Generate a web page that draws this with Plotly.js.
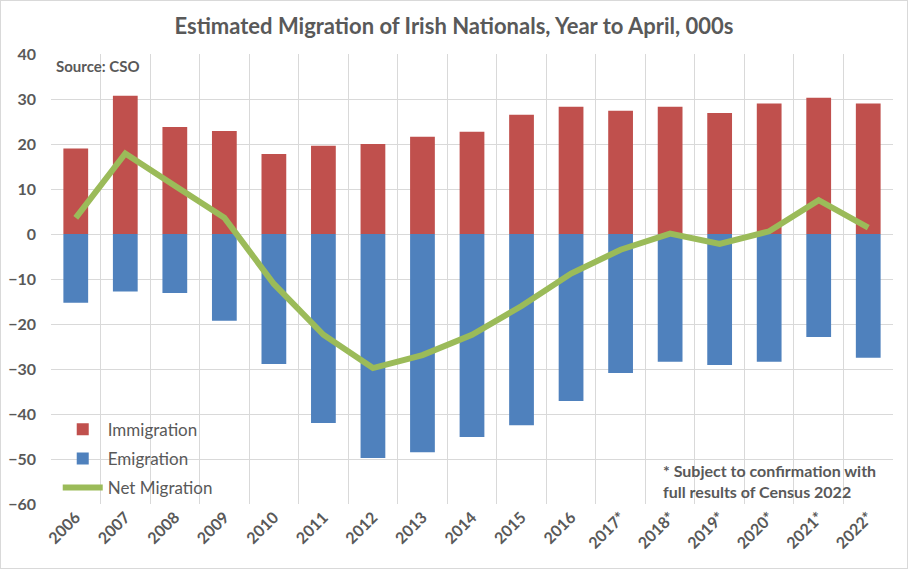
<!DOCTYPE html>
<html>
<head>
<meta charset="utf-8">
<script src="https://cdn.plot.ly/plotly-3.0.1.min.js"></script>
<style>
html,body{margin:0;padding:0;background:#fff;}
#chart{width:906px;height:567px;border:1px solid #D9D9D9;}
</style>
</head>
<body>
<div id="chart"></div>
<script>
const years = ["2006","2007","2008","2009","2010","2011","2012","2013","2014","2015","2016","2017*","2018*","2019*","2020*","2021*","2022*"];
const immigration = [19.0,30.7,23.8,22.9,17.8,19.6,20.0,21.6,22.7,26.5,28.3,27.4,28.3,26.9,29.0,30.3,29.0];
const emigration = [-15.3,-12.8,-13.1,-19.3,-28.9,-42.0,-49.8,-48.5,-45.1,-42.5,-37.1,-30.9,-28.4,-29.1,-28.4,-22.9,-27.5];
const netMigration = [3.6,17.9,10.7,3.6,-11.1,-22.4,-29.8,-26.9,-22.4,-16.0,-8.8,-3.5,0.1,-2.2,0.6,7.5,1.4];

const grey = "#595959";
const fontFam = "Lato, 'Open Sans', sans-serif";

const traces = [
  {type:"bar", name:"Immigration", legendgroup:"a", x:years, y:immigration, marker:{color:"#C0504D"}},
  {type:"bar", name:"Emigration", legendgroup:"b", x:years, y:emigration, marker:{color:"#4F81BD"}},
  {type:"scatter", mode:"lines", name:"Net Migration", legendgroup:"c", x:years, y:netMigration,
   line:{color:"#9BBB59", width:6}}
];

const layout = {
  width:906, height:567,
  margin:{l:50, r:14, t:53, b:64},
  paper_bgcolor:"#fff", plot_bgcolor:"#fff",
  barmode:"relative", bargap:0.5,
  showlegend:true,
  font:{family:fontFam, color:grey},
  title:{text:"<b>Estimated Migration of Irish Nationals, Year to April, 000s</b>",
         font:{size:22, color:grey, family:fontFam}, x:0.5, xanchor:"center", y:0.955, yanchor:"middle"},
  xaxis:{type:"category", tickson:"boundaries", showgrid:true, gridcolor:"#D9D9D9", gridwidth:1,
         tickangle:-45, ticks:"", tickfont:{size:16, color:grey, family:fontFam, weight:"bold"},
         showline:false, zeroline:false, mirror:false},
  yaxis:{range:[-60,40], dtick:10, showgrid:true, gridcolor:"#D9D9D9", gridwidth:1, zeroline:false,
         ticks:"", ticklabelstandoff:14, tickfont:{size:16, color:grey, family:fontFam, weight:"bold"}},
  legend:{x:0.008, y:0.205, xanchor:"left", yanchor:"top", bgcolor:"rgba(0,0,0,0)",
          font:{size:17, color:grey, family:fontFam}, traceorder:"grouped", tracegroupgap:4, itemwidth:40},
  annotations:[
    {text:"<b>Source: CSO</b>", xref:"paper", yref:"paper", x:0.004, y:0.998, xanchor:"left", yanchor:"top",
     showarrow:false, font:{size:15, color:grey, family:fontFam}},
    {text:"<b>* Subject to confirmation with<br>full results of Census 2022</b>", xref:"paper", yref:"paper",
     x:0.725, y:0.1, xanchor:"left", yanchor:"top", align:"left", showarrow:false,
     font:{size:16, color:grey, family:fontFam}}
  ]
};

Plotly.newPlot("chart", traces, layout, {staticPlot:true, displayModeBar:false});
</script>
</body>
</html>
